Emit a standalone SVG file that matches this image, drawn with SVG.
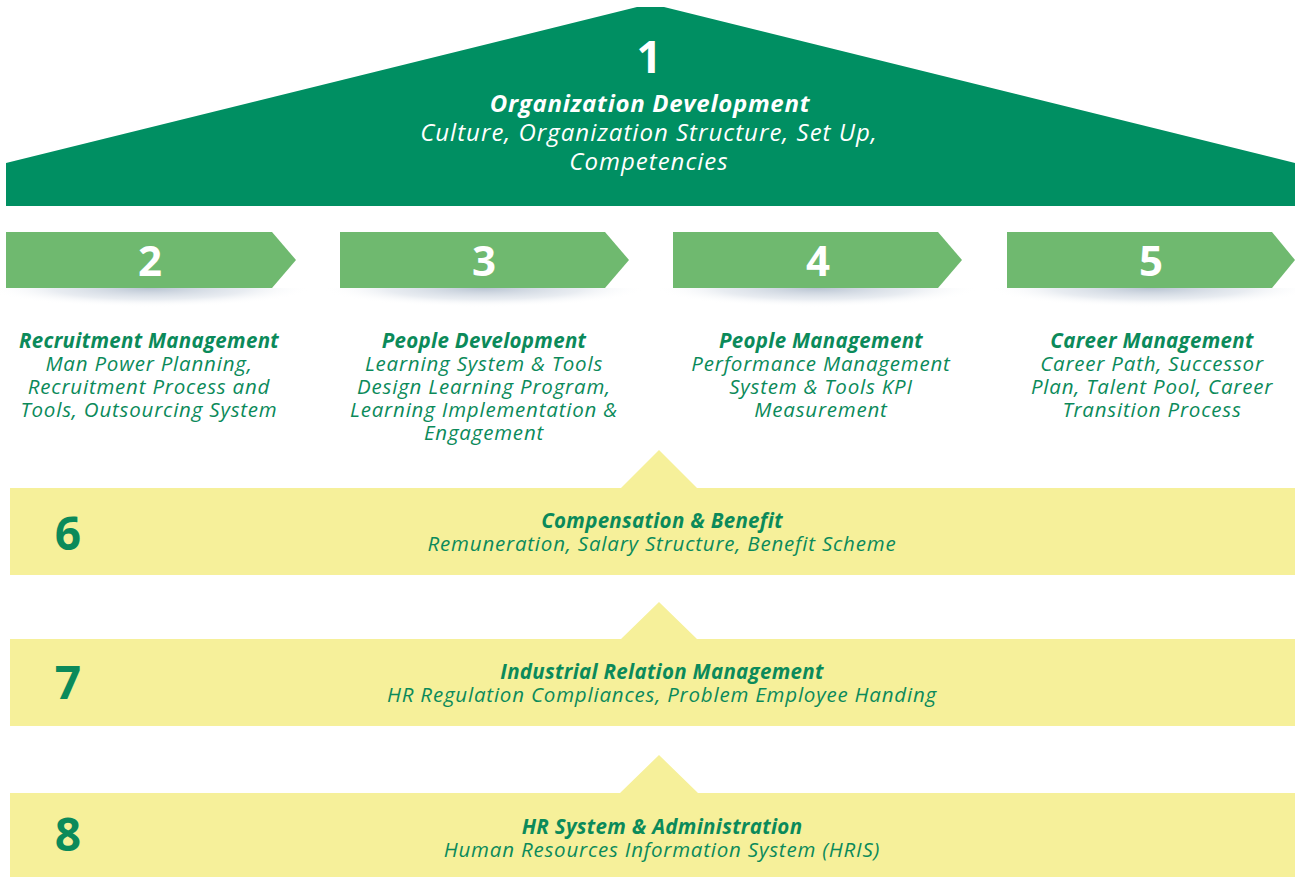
<svg xmlns="http://www.w3.org/2000/svg" width="1295" height="877" viewBox="0 0 1295 877">
<defs>
<style>
.t{font-family:"Open Sans","Noto Sans","Liberation Sans",sans-serif;font-style:italic;text-anchor:middle;font-size:20.5px;letter-spacing:0.8px}
.b{font-weight:700;letter-spacing:0.3px}
.r{font-size:24px;letter-spacing:1px}
.rb{font-size:24px;letter-spacing:0.7px}
.g{fill:#0b8a5a}
.w{fill:#ffffff}
.num{font-family:"Open Sans","Noto Sans","Liberation Sans",sans-serif;font-weight:700;text-anchor:middle}
.chev{fill:#6fb96f}
.band{fill:#f6f09a}
</style>
<radialGradient id="sh" cx="0.5" cy="0" r="0.5">
<stop offset="0" stop-color="#b4c0cf" stop-opacity="0.95"/>
<stop offset="0.6" stop-color="#d6dde6" stop-opacity="0.55"/>
<stop offset="1" stop-color="#ffffff" stop-opacity="0"/>
</radialGradient>
</defs>
<rect width="1295" height="877" fill="#ffffff"/>
<g id="roof">
<polygon points="6,163 637,7 664,7 1295,163 1295,206 6,206" fill="#008f62"/>
<text class="num w" x="649" y="73" font-size="44">1</text>
<text class="t b rb w" x="650" y="112">Organization Development</text>
<text class="t r w" x="649" y="141">Culture, Organization Structure, Set Up,</text>
<text class="t r w" x="649" y="170">Competencies</text>
</g>
<g id="shadows">
<rect x="-12" y="288" width="324" height="38" fill="url(#sh)"/>
<rect x="322" y="288" width="324" height="38" fill="url(#sh)"/>
<rect x="655" y="288" width="324" height="38" fill="url(#sh)"/>
<rect x="989" y="288" width="324" height="38" fill="url(#sh)"/>
</g>
<g id="n2">
<polygon class="chev" points="6,232 272,232 296,260 272,288 6,288"/>
<text class="num w" x="150" y="276" font-size="42">2</text>
<text class="t b g" x="149" y="348">Recruitment Management</text>
<text class="t g" x="149" y="371">Man Power Planning,</text>
<text class="t g" x="149" y="394">Recruitment Process and</text>
<text class="t g" x="149" y="417">Tools, Outsourcing System</text>
</g>
<g id="n3">
<polygon class="chev" points="340,232 605,232 629,260 605,288 340,288"/>
<text class="num w" x="484" y="276" font-size="42">3</text>
<text class="t b g" x="484" y="348">People Development</text>
<text class="t g" x="484" y="371">Learning System &amp; Tools</text>
<text class="t g" x="484" y="394">Design Learning Program,</text>
<text class="t g" x="484" y="417">Learning Implementation &amp;</text>
<text class="t g" x="484" y="440">Engagement</text>
</g>
<g id="n4">
<polygon class="chev" points="673,232 938,232 962,260 938,288 673,288"/>
<text class="num w" x="818" y="276" font-size="42">4</text>
<text class="t b g" x="821" y="348">People Management</text>
<text class="t g" x="821" y="371">Performance Management</text>
<text class="t g" x="821" y="394">System &amp; Tools KPI</text>
<text class="t g" x="821" y="417">Measurement</text>
</g>
<g id="n5">
<polygon class="chev" points="1007,232 1272,232 1295,260 1272,288 1007,288"/>
<text class="num w" x="1151" y="276" font-size="42">5</text>
<text class="t b g" x="1152" y="348">Career Management</text>
<text class="t g" x="1152" y="371">Career Path, Successor</text>
<text class="t g" x="1152" y="394">Plan, Talent Pool, Career</text>
<text class="t g" x="1152" y="417">Transition Process</text>
</g>
<g id="n6">
<polygon class="band" points="10,488 621,488 659,450 697,488 1295,488 1295,575 10,575"/>
<text class="num g" x="68" y="550" font-size="46">6</text>
<text class="t b g" x="662" y="528">Compensation &amp; Benefit</text>
<text class="t g" x="662" y="551">Remuneration, Salary Structure, Benefit Scheme</text>
</g>
<g id="n7">
<polygon class="band" points="10,639 621,639 659,602 697,639 1295,639 1295,726 10,726"/>
<text class="num g" x="68" y="699" font-size="46">7</text>
<text class="t b g" x="662" y="679">Industrial Relation Management</text>
<text class="t g" x="662" y="702">HR Regulation Compliances, Problem Employee Handing</text>
</g>
<g id="n8">
<polygon class="band" points="10,793 620,793 659,755 698,793 1295,793 1295,877 10,877"/>
<text class="num g" x="68" y="851" font-size="46">8</text>
<text class="t b g" x="662" y="834">HR System &amp; Administration</text>
<text class="t g" x="662" y="857">Human Resources Information System (HRIS)</text>
</g>
<g id="connectors"></g>
</svg>
